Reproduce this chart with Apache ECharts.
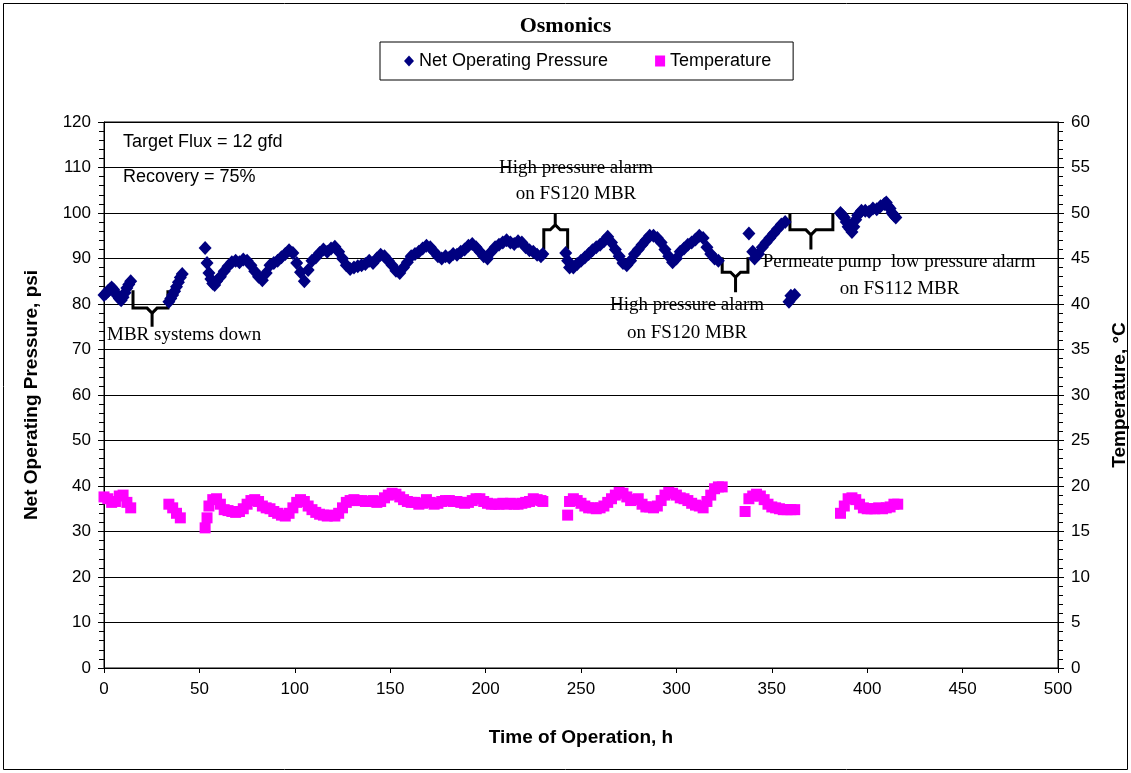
<!DOCTYPE html>
<html>
<head>
<meta charset="utf-8">
<script src="https://cdn.jsdelivr.net/npm/echarts@6/dist/echarts.min.js"></script>
<style>
  html, body { margin: 0; padding: 0; background: #fff; }
  #main { width: 1131px; height: 773px; }
</style>
</head>
<body>
<div id="main"></div>
<script>
// data: [hour, value]
var seriesNames = ['Net Operating Pressure', 'Temperature'];

var pressure = [
  [0,82],[1,82.3],[2,82.8],[3,83.2],[4,83.6],[5,83.2],[6,82.5],[7,81.8],[8,81.2],[9,80.8],[10,81.5],[11,82.5],[12,83.5],[13,84.3],[14,85],
  [34,80.5],[35,81.2],[36,82],[37,82.8],[38,83.8],[39,84.8],[40,85.8],[41,86.6],
  [53,92.3],[54,89],[55,86.8],[56,85.5],[57,84.5],[58,84.2],[59,85],[61,86],[63,87.2],[65,88.3],[67,89.2],[69,89.5],[71,89.2],[73,89.8],[75,89.5],
  [77,88.5],[79,87.2],[81,86],[83,85.2],[85,86.8],[87,88.5],[89,89],[91,89.5],[93,90.3],[95,91],[97,91.8],[99,91.2],[101,89],[103,87],[105,85],
  [107,87.5],[109,89.5],[111,90.2],[113,91.2],[115,92],[117,91.5],[119,92.2],[121,92.6],[123,91.5],[125,90],[127,88.5],[129,87.7],[131,88],
  [133,88.3],[135,88.5],[137,88.8],[139,89.5],[141,89],[143,90],[145,90.8],[147,90.5],[149,89.5],[151,88.5],[153,87.3],[155,86.8],[157,88],
  [159,89.2],[161,90.5],[163,91],[165,91.5],[167,92.2],[169,92.8],[171,92.5],[173,91.5],[175,90.5],[177,90],[179,90.5],[181,90.2],[183,91],
  [185,90.8],[187,91.5],[189,92],[191,92.8],[193,93.2],[195,92.5],[197,91.5],[199,90.5],[201,90],[203,91.5],[205,92.5],[207,93],[209,93.5],
  [211,94],[213,93.5],[215,93.2],[217,93.8],[219,93.5],[221,92.5],[223,91.8],[225,91.5],[227,90.8],[229,90.5],[230,91],
  [242,91.2],[243,89.5],[244,88],[246,88],[248,88.8],[250,89.5],[252,90.2],[254,91],[256,91.8],[258,92.5],[260,93],[262,93.8],[264,94.8],
  [266,93.5],[268,92],[270,90.5],[272,89],[274,88.5],[276,89.5],[278,91],[280,92],[282,93],[284,94],[286,95],[288,95],[290,94.5],[292,93.5],
  [294,92],[296,90.5],[298,89.2],[300,90],[302,91.5],[304,92.2],[306,93],[308,93.5],[310,94.2],[312,95],[314,94.5],[316,92.5],[318,91],[320,90],[322,89.5],
  [338,95.5],[340,91.5],[341,90],[343,91],[345,92.5],[347,93.5],[349,94.5],[351,95.5],[353,96.5],[355,97.5],[357,98],
  [359,80.5],[360,81.8],[362,82],
  [386,100],[387,99.5],[388,99],[389,98],[390,97],[391,96.5],[392,95.8],[393,97],[394,98.5],[395,99.5],[397,100.5],[399,100.5],[401,100.3],
  [403,101],[405,100.8],[407,101.5],[409,102],[410,102.3],[411,101.5],[412,101],[413,100],[414,99.5],[415,99]
];

var temperature = [
  [0,18.8],[2,18.6],[4,18.2],[6,18.3],[8,18.9],[10,19],[12,18.2],[14,17.6],
  [34,18],[36,17.6],[38,17],[40,16.5],
  [53,15.4],[54,16.5],[55,17.8],[57,18.5],[59,18.6],[61,18],[63,17.4],[65,17.3],[67,17.2],[69,17.1],[71,17.2],[73,17.5],[75,18],[77,18.4],
  [79,18.5],[81,18.3],[83,17.8],[85,17.6],[87,17.5],[89,17.2],[91,17],[93,16.8],[95,16.7],[97,17],[99,17.6],[101,18.2],[103,18.5],[105,18.3],
  [107,17.8],[109,17.4],[111,17.1],[113,16.9],[115,16.8],[117,16.7],[119,16.8],[121,16.7],[123,17],[125,17.6],[127,18.2],[129,18.4],[131,18.5],
  [133,18.4],[135,18.4],[137,18.3],[139,18.3],[141,18.4],[143,18.2],[145,18.3],[147,18.7],[149,19],[151,19.2],[153,19.1],[155,18.8],[157,18.5],
  [159,18.3],[161,18.2],[163,18.2],[165,18],[167,18.1],[169,18.5],[171,18.2],[173,18],[175,18.1],[177,18.3],[179,18.4],[181,18.4],[183,18.3],
  [185,18.3],[187,18.2],[189,18.1],[191,18.2],[193,18.4],[195,18.6],[197,18.6],[199,18.3],[201,18.1],[203,18],[205,18],[207,18],[209,18.1],
  [211,18],[213,18.1],[215,18],[217,18],[219,18.1],[221,18.2],[223,18.3],[225,18.6],[227,18.5],[229,18.4],[230,18.3],
  [243,16.8],[244,18.3],[246,18.6],[248,18.4],[250,18.1],[252,17.8],[254,17.6],[256,17.6],[258,17.5],[260,17.6],[262,17.8],[264,18.2],[266,18.6],
  [268,19],[270,19.3],[272,19.2],[274,18.8],[276,18.4],[278,18.5],[280,18.6],[282,18],[284,17.7],[286,17.7],[288,17.6],[290,17.8],[292,18.4],
  [294,19],[296,19.3],[298,19.2],[300,19],[302,18.7],[304,18.6],[306,18.4],[308,18.1],[310,17.9],[312,17.8],[314,17.6],[316,18.3],[318,19],
  [320,19.7],[322,19.9],[324,19.9],
  [336,17.2],[338,18.6],[340,18.9],[342,19.1],[344,18.9],[346,18.5],[348,18],[350,17.7],[352,17.6],[354,17.5],[356,17.4],[358,17.4],[360,17.4],[362,17.4],
  [386,17],[388,17.8],[390,18.6],[392,18.7],[394,18.5],[396,18],[398,17.6],[400,17.5],[402,17.5],[404,17.5],[406,17.6],[408,17.5],[410,17.6],
  [412,17.7],[414,18],[416,18]
];

var myChart = echarts.init(document.getElementById('main'));

var sans = 'Liberation Sans, Arial, sans-serif';
var serif = 'Liberation Serif, Times New Roman, serif';

myChart.setOption({
    animation: false,
    backgroundColor: '#fff',
    title: {
        text: 'Osmonics',
        left: 'center',
        top: 10,
        textStyle: { fontFamily: serif, fontSize: 22, fontWeight: 'bold', color: '#000' }
    },
    legend: {
        data: [
            { name: seriesNames[0], icon: 'diamond' },
            { name: seriesNames[1], icon: 'rect' }
        ],
        left: 380,
        top: 42,
        itemWidth: 10,
        itemHeight: 11,
        itemGap: 47,
        padding: [10, 22, 10, 24],
        borderColor: '#000',
        borderWidth: 1,
        textStyle: { fontFamily: sans, fontSize: 18, color: '#000' }
    },
    grid: {   // plot area
        left: 104,
        right: 73,
        top: 122,
        bottom: 105,
        containLabel: false,
        outerBoundsMode: 'none',
        show: true,
        borderColor: '#000',
        borderWidth: 1
    },
    xAxis: {
        type: 'value',
        min: 0, max: 500, interval: 50,
        name: 'Time of Operation, h',
        nameLocation: 'middle',
        nameGap: 60,
        nameTextStyle: { fontFamily: sans, fontSize: 19, fontWeight: 'bold', color: '#000' },
        axisLine: { lineStyle: { color: '#000' } },
        axisTick: { show: true, inside: false, length: 5, lineStyle: { color: '#000' } },
        axisLabel: { fontFamily: sans, fontSize: 17, color: '#000', margin: 13 },
        splitLine: { show: false }
    },
    yAxis: [{
        type: 'value',
        min: 0, max: 120, interval: 10,
        name: 'Net Operating Pressure, psi',
        nameLocation: 'middle',
        nameRotate: 90,
        nameGap: 63,
        nameTextStyle: { fontFamily: sans, fontSize: 19, fontWeight: 'bold', color: '#000' },
        axisLine: { show: true, lineStyle: { color: '#000' } },
        axisTick: { show: true, length: 6, lineStyle: { color: '#000' } },
        minorTick: { show: true, splitNumber: 5, length: 5, lineStyle: { color: '#000' } },
        axisLabel: { fontFamily: sans, fontSize: 17, color: '#000', margin: 13 },
        splitLine: { show: true, lineStyle: { color: '#000', width: 1 } }
    }, {
        type: 'value',
        min: 0, max: 60, interval: 5,
        position: 'right',
        name: 'Temperature, °C',
        nameLocation: 'middle',
        nameRotate: 90,
        nameGap: 52,
        nameTextStyle: { fontFamily: sans, fontSize: 19, fontWeight: 'bold', color: '#000' },
        axisLine: { show: true, lineStyle: { color: '#000' } },
        axisTick: { show: true, length: 6, lineStyle: { color: '#000' } },
        minorTick: { show: true, splitNumber: 5, length: 5, lineStyle: { color: '#000' } },
        axisLabel: { fontFamily: sans, fontSize: 17, color: '#000', margin: 13 },
        splitLine: { show: false }
    }],
    series: [{
        name: seriesNames[0],
        type: 'scatter',
        yAxisIndex: 0,
        symbol: 'diamond',
        symbolSize: [13, 14],
        itemStyle: { color: '#000080', opacity: 1 },
        data: pressure
    }, {
        name: seriesNames[1],
        type: 'scatter',
        yAxisIndex: 1,
        symbol: 'rect',
        symbolSize: 11,
        itemStyle: { color: '#FF00FF', opacity: 1 },
        data: temperature
    }]
});

// annotations, placed in data coordinates
function px(h, v) {
    return myChart.convertToPixel({ xAxisIndex: 0, yAxisIndex: 0 }, [h, v]);
}

// [left h, right h, centre h, arm end psi, base psi, tip psi]
var braces = [
    [15.2, 33.5, 25.2, 83, 79.1, 75],
    [230.5, 243, 236.5, 92, 96.3, 100],
    [324, 337.5, 331, 90.3, 87, 82.6],
    [359.5, 382, 370.5, 100, 96.3, 92]
];

// [text, h, psi, align]
var notes = [
    ['MBR systems down', 1.6, 73.1, 'left'],
    ['High pressure alarm', 247.4, 109.8, 'center'],
    ['on FS120 MBR', 247.4, 104.2, 'center'],
    ['High pressure alarm', 305.6, 79.7, 'center'],
    ['on FS120 MBR', 305.6, 73.6, 'center'],
    ['Permeate pump  low pressure alarm', 416.7, 89.2, 'center'],
    ['on FS112 MBR', 417, 83.3, 'center']
];

var graphics = [{
    type: 'rect',
    shape: { x: 3.5, y: 3.5, width: 1124, height: 766 },
    style: { fill: 'none', stroke: '#000', lineWidth: 1 },
    silent: true
}];

braces.forEach(function (b) {
    var a1 = px(b[0], b[3]), b1 = px(b[0], b[4]);
    var a2 = px(b[1], b[3]), b2 = px(b[1], b[4]);
    var c = px(b[2], b[4]), t = px(b[2], b[5]);
    var s = t[1] > c[1] ? 1 : -1;
    var joint = [c[0], c[1] + s * 5];
    graphics.push({
        type: 'polyline',
        shape: { points: [a1, b1, [c[0] - 5, c[1]], joint, t] },
        style: { fill: null, stroke: '#000', lineWidth: 3 },
        silent: true
    });
    graphics.push({
        type: 'polyline',
        shape: { points: [joint, [c[0] + 5, c[1]], b2, a2] },
        style: { fill: null, stroke: '#000', lineWidth: 3 },
        silent: true
    });
});

notes.forEach(function (n) {
    var p = px(n[1], n[2]);
    graphics.push({
        type: 'text',
        x: p[0], y: p[1],
        style: {
            text: n[0], fill: '#000',
            font: '19px ' + serif,
            textAlign: n[3], textVerticalAlign: 'middle'
        },
        silent: true
    });
});

graphics.push({
    type: 'text', left: 123, top: 133,
    style: { text: 'Target Flux = 12 gfd', fill: '#000', font: '18px ' + sans }
});
graphics.push({
    type: 'text', left: 123, top: 168,
    style: { text: 'Recovery = 75%', fill: '#000', font: '18px ' + sans }
});

myChart.setOption({ graphic: graphics });
</script>
</body>
</html>
